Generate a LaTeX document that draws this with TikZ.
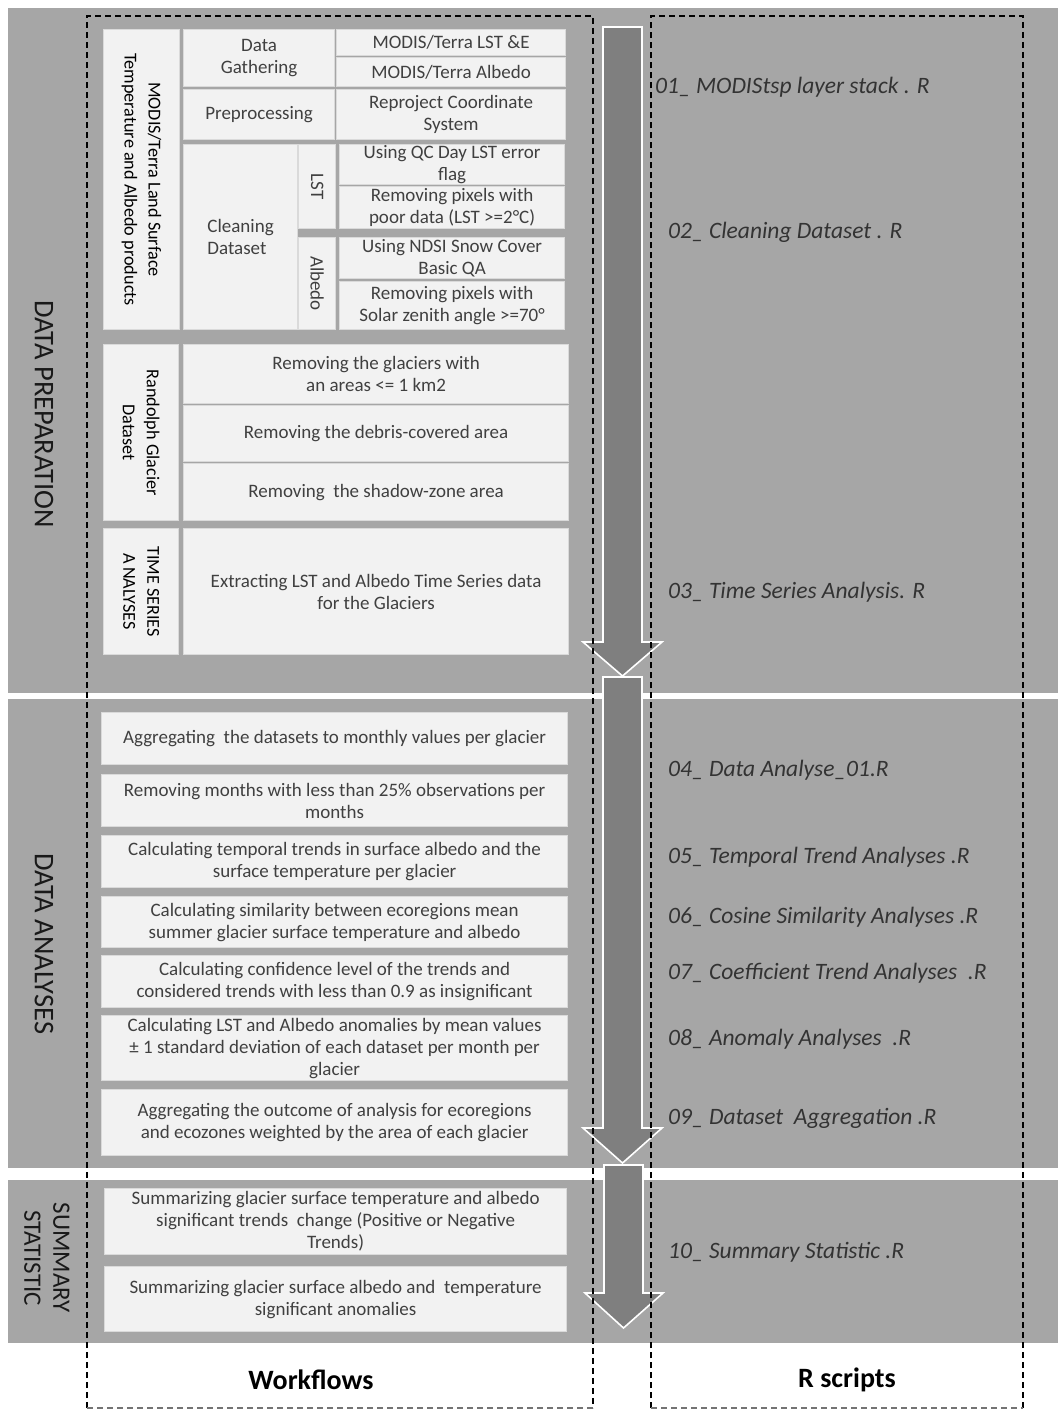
\documentclass[tikz,border=0pt]{standalone}
\usepackage{fontspec}
\setmainfont{Carlito}
\definecolor{bandgray}{HTML}{A6A6A6}
\definecolor{arrowgray}{HTML}{7F7F7F}
\definecolor{cellfill}{HTML}{F2F2F2}
\definecolor{celldraw}{HTML}{DADADA}
\definecolor{celltext}{HTML}{404040}
\definecolor{scripttext}{HTML}{333333}
\newcommand{\cellbox}[6]{\node[cell, anchor=north west, minimum width={(#4-#2)*1pt}, minimum height={(#5-#3)*1pt}] (#1) at (#2,#3) {#6};}
\begin{document}
\begin{tikzpicture}[x=1pt,y=-1pt,
  band/.style={fill=bandgray, draw=none},
  cell/.style={fill=cellfill, draw=celldraw, line width=1.2pt, inner sep=0pt, align=center, text=celltext,
    font=\fontsize{19}{22}\selectfont},
  vlabel/.style={rotate=-90, align=center, text=black, inner sep=0pt, font=\fontsize{18.2}{24}\selectfont},
  heading/.style={rotate=-90, align=center, text=black!90, inner sep=0pt, font=\fontsize{28.5}{29}\selectfont},
  script/.style={anchor=west, text=scripttext, inner sep=0pt, font=\fontsize{23.5}{26}\selectfont\itshape},
  colhead/.style={text=black, inner sep=0pt, font=\fontsize{28}{30}\selectfont\bfseries},
  bigarrow/.style={fill=arrowgray, draw=white, line width=1.6pt, line join=miter},
  dashbox/.style={draw=black, line width=1.6pt, dash pattern=on 6pt off 4pt},
  dashbottom/.style={draw=black!55, line width=1.3pt, dash pattern=on 6pt off 4pt}
]
\useasboundingbox[fill=white] (0,0) rectangle (1058,1410);
% bands
\fill[band] (8,8) rectangle (1058,693);
\fill[band] (8,699) rectangle (1058,1168);
\fill[band] (8,1180) rectangle (1058,1343);

% headings
\node[heading] (hprep) at (44,414) {DATA PREPARATION};
\node[heading] (hana) at (44,944) {DATA ANALYSES};
\node[heading, font=\fontsize{25}{29}\selectfont] (hsum) at (47,1258) {SUMMARY\\STATISTIC};

% band 1 cells
\cellbox{modis}{103}{29}{179}{329}{}
\node[vlabel] (modist) at (modis.center) {MODIS/Terra Land Surface\\Temperature and Albedo products};
\cellbox{gath}{183}{29}{334}{86}{Data\\Gathering}
\cellbox{lste}{336}{29}{565}{55}{MODIS/Terra LST \&E}
\cellbox{albe}{336}{57}{565}{86}{MODIS/Terra Albedo}
\cellbox{prep}{183}{89}{334}{139}{Preprocessing}
\cellbox{reproj}{336}{89}{565}{139}{Reproject Coordinate\\System}
\cellbox{clean}{183}{144}{297}{329}{}
\node[align=left, text=celltext, inner sep=0pt, font=\fontsize{19}{22}\selectfont] (cleant) at (clean.center) {Cleaning\\Dataset};
\cellbox{lstl}{298}{144}{335}{228}{}
\node[vlabel, text=celltext, font=\fontsize{19}{20}\selectfont] (lstt) at (lstl.center) {LST};
\cellbox{qc}{339}{144}{564}{184}{Using QC Day LST error\\flag}
\cellbox{poor}{339}{186}{564}{228}{Removing pixels with\\poor data (LST >=2°C)}
\cellbox{albl}{298}{237}{335}{329}{}
\node[vlabel, text=celltext, font=\fontsize{19}{20}\selectfont] (albt) at (albl.center) {Albedo};
\cellbox{ndsi}{339}{237}{564}{278}{Using NDSI Snow Cover\\Basic QA}
\cellbox{solar}{339}{281}{564}{329}{Removing pixels with\\Solar zenith angle >=70°}

% Randolph
\cellbox{rgl}{103}{344}{178}{520}{}
\node[vlabel] (rglt) at (rgl.center) {Randolph Glacier\\Dataset};
\cellbox{rone}{183}{344}{568}{403}{Removing the glaciers with\\an areas <= 1 km2}
\cellbox{rtwo}{183}{405}{568}{461}{Removing the debris-covered area}
\cellbox{rthree}{183}{463}{568}{520}{Removing\ \ the shadow-zone area}

% Time series
\cellbox{tsl}{103}{528}{178}{654}{}
\node[vlabel] (tslt) at (tsl.center) {TIME SERIES\\A\,NALYSES};
\cellbox{ts}{183}{528}{568}{654}{Extracting LST and Albedo Time Series data\\for the Glaciers}

% band 2
\cellbox{aone}{101}{712}{567}{764}{Aggregating\ \ the datasets to monthly values per glacier}
\cellbox{atwo}{101}{774}{567}{826}{Removing months with less than 25\% observations per\\months}
\cellbox{athree}{101}{835}{567}{887}{Calculating temporal trends in surface albedo and the\\surface temperature per glacier}
\cellbox{afour}{101}{896}{567}{947}{Calculating similarity between ecoregions mean\\summer glacier surface temperature and albedo}
\cellbox{afive}{101}{955}{567}{1007}{Calculating confidence level of the trends and\\considered trends with less than 0.9 as insignificant}
\cellbox{asix}{101}{1015}{567}{1080}{Calculating LST and Albedo anomalies by mean values\\± 1 standard deviation of each dataset per month per\\glacier}
\cellbox{aseven}{101}{1089}{567}{1155}{Aggregating the outcome of analysis for ecoregions\\and ecozones weighted by the area of each glacier}

% band 3
\cellbox{sone}{104}{1188}{566}{1254}{Summarizing glacier surface temperature and albedo\\significant trends\ \ change (Positive or Negative\\Trends)}
\cellbox{stwo}{104}{1266}{566}{1331}{Summarizing glacier surface albedo and\ \ temperature\\significant anomalies}

% big arrows
\draw[bigarrow] (603,27) -- (642,27) -- (642,642) -- (662,642) -- (622.5,676) -- (583,642) -- (603,642) -- cycle;
\draw[bigarrow] (603,677) -- (642,677) -- (642,1128) -- (662,1128) -- (622.5,1163) -- (583,1128) -- (603,1128) -- cycle;
\draw[bigarrow] (604,1165) -- (643,1165) -- (643,1293) -- (663,1293) -- (623.5,1328) -- (585,1293) -- (604,1293) -- cycle;

% dashed columns
\draw[dashbox] (87,1408) -- (87,16) -- (593,16) -- (593,1408);
\draw[dashbottom] (87,1408) -- (593,1408);
\draw[dashbox] (651,1408) -- (651,16) -- (1023,16) -- (1023,1408);
\draw[dashbottom] (651,1408) -- (1023,1408);

% scripts
\node[script] (sc1) at (655,87) {01\_ MODIStsp layer stack . R};
\node[script] (sc2) at (668,232) {02\_ Cleaning Dataset . R};
\node[script] (sc3) at (668,592) {03\_ Time Series Analysis. R};
\node[script] (sc4) at (668,770) {04\_ Data Analyse\_01.R};
\node[script] (sc5) at (668,857) {05\_ Temporal Trend Analyses .R};
\node[script] (sc6) at (668,917) {06\_ Cosine Similarity Analyses .R};
\node[script] (sc7) at (668,973) {07\_ Coefficient Trend Analyses\ \ .R};
\node[script] (sc8) at (668,1039) {08\_ Anomaly Analyses\ \ .R};
\node[script] (sc9) at (668,1118) {09\_ Dataset\ \ Aggregation .R};
\node[script] (sc10) at (668,1252) {10\_ Summary Statistic .R};

% column headings
\node[colhead] (wf) at (311,1380) {Workflows};
\node[colhead] (rs) at (847,1380) {R scripts};
\end{tikzpicture}
\end{document}
